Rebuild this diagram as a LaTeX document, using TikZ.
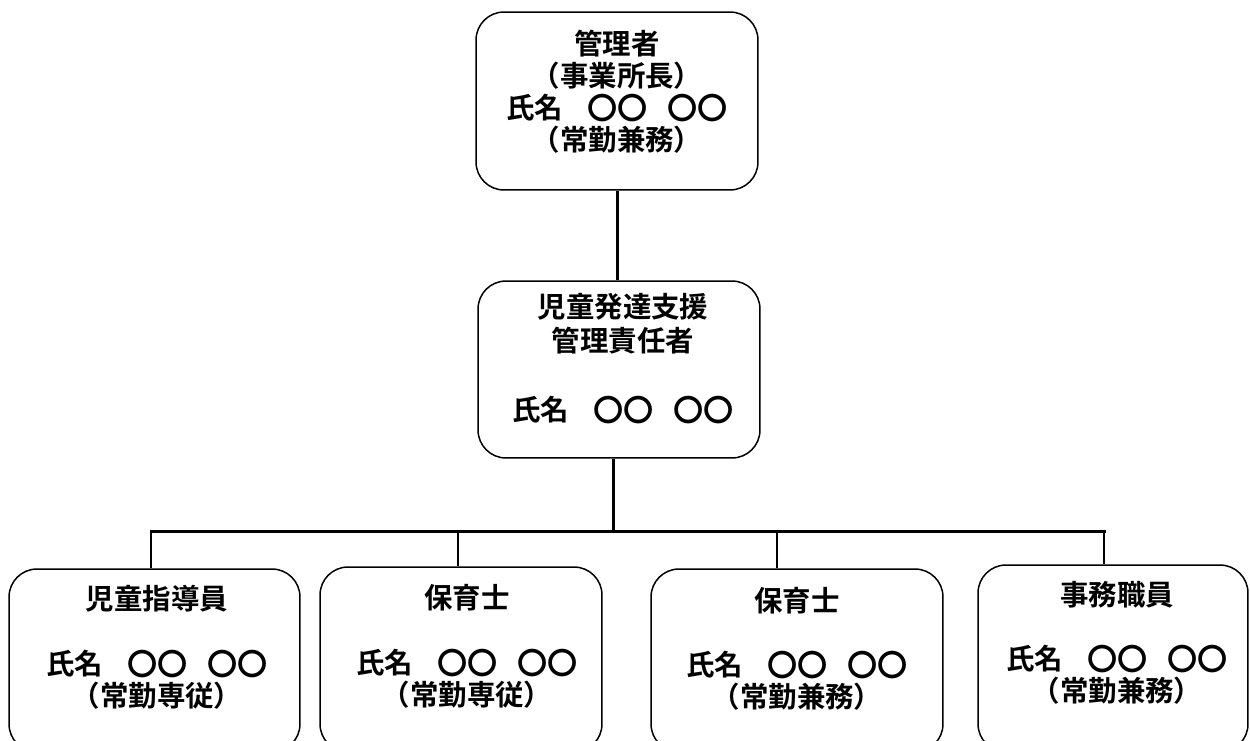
\documentclass[tikz,border=0pt]{standalone}
\usepackage{fontspec}
\newfontfamily\jp{Noto Sans CJK JP}[BoldFont={Noto Sans CJK JP Bold}]
\newcommand{\cc}{\raisebox{-0.04em}{\scalebox{1.06}{〇〇}}}
\newcommand{\nm}{氏名\hspace{0.85em}\cc\hspace{0.68em}\cc}
\tikzset{
  box/.style={draw=black, line width=0.85pt, rounded corners=0.56cm, inner sep=0pt},
  txt/.style={align=center, inner sep=0pt, font=\jp\bfseries\fontsize{16.2pt}{18.3pt}\selectfont},
  link/.style={draw=black, line width=1.7pt},
  drop/.style={draw=black, line width=1.2pt}
}
\begin{document}
\begin{tikzpicture}[x=0.02cm,y=-0.02cm]
\useasboundingbox (0,0) rectangle (1250,740);
\clip (0,0) rectangle (1250,740);
% boxes
\node[box, minimum width=5.64cm, minimum height=3.56cm] (top) at (617,101) {};
\node[box, minimum width=5.64cm, minimum height=3.54cm] (mid) at (619,369.5) {};
\node[box, minimum width=5.82cm, minimum height=3.66cm] (b1) at (154.5,660.5) {};
\node[box, minimum width=5.64cm, minimum height=3.70cm] (b2) at (461,659.5) {};
\node[box, minimum width=5.84cm, minimum height=3.66cm] (b3) at (797,660.5) {};
\node[box, minimum width=5.40cm, minimum height=3.74cm] (b4) at (1113,658.5) {};
% texts
\node[txt] (ttop) at (617,91.5) {管理者\\（事業所長）\\\nm\\（常勤兼務）};
\node[txt, font=\jp\bfseries\fontsize{16.2pt}{19.6pt}\selectfont] (tmid) at (623,358.5) {児童発達支援\\管理責任者\\ \\\nm};
\node[txt] (tb1) at (157,647.5) {児童指導員\\ \\\nm\\（常勤専従）};
\node[txt] (tb2) at (467,646.5) {保育士\\ \\\nm\\（常勤専従）};
\node[txt] (tb3) at (797,649) {保育士\\ \\\nm\\（常勤兼務）};
\node[txt] (tb4) at (1117,643) {事務職員\\ \\\nm\\（常勤兼務）};
% connectors
\coordinate (j) at (613,531);
\coordinate (d1) at (151,531);
\coordinate (d2) at (458,531);
\coordinate (d3) at (777,531);
\coordinate (d4) at (1104,531);
\draw[link] (top.south) -- (top.south |- mid.north);
\draw[link] (j |- mid.south) -- (j);
\draw[link, line cap=rect] (d1) -- (d4);
\draw[drop] (d1) -- (d1 |- b1.north);
\draw[drop] (d2) -- (d2 |- b2.north);
\draw[drop] (d3) -- (d3 |- b3.north);
\draw[drop] (d4) -- (d4 |- b4.north);
\end{tikzpicture}
\end{document}
